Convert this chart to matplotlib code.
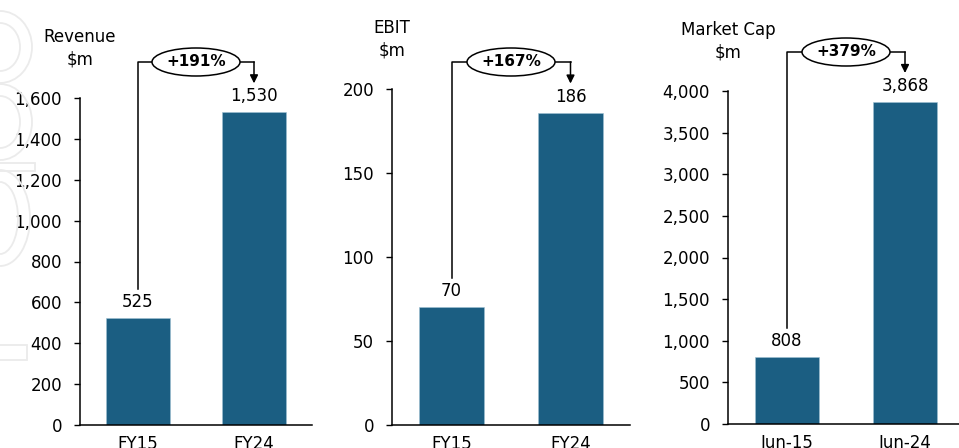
import numpy as np
import matplotlib
matplotlib.use('Agg')
import matplotlib.pyplot as plt
from matplotlib.patches import Ellipse, Arc, Rectangle
from matplotlib.transforms import IdentityTransform, blended_transform_factory

plt.rcParams['font.family'] = ['DejaVu Sans']

# data
titles = ['Revenue\n$m', 'EBIT\n$m', 'Market Cap\n$m']
categories = [['FY15', 'FY24'], ['FY15', 'FY24'], ['Jun-15', 'Jun-24']]
values = [[525, 1530], [70, 186], [808, 3868]]
growth = ['+191%', '+167%', '+379%']
yticks = [np.arange(0, 1601, 200), np.arange(0, 201, 50), np.arange(0, 4001, 500)]

bar_color = '#1B5E82'
fs = 12
W, H = 959, 448
fig = plt.figure(figsize=(W / 100, H / 100), dpi=100)

# axes boxes in pixels: left, right, top, bottom (from top of image)
boxes = [(80, 312, 98, 425), (392, 630, 89, 425), (728, 964, 91, 424)]
bracket_y = [62, 62, 52]   # horizontal connector height, px from top

# faint watermark shapes on left edge (pixels from top)
wm = '#ebebeb'
for cy, hh, hw in [(47, 36, 32), (47, 24, 20), (122, 38, 32), (122, 26, 20), (218, 48, 30), (218, 36, 18)]:
    fig.add_artist(Arc((0, H - cy), 2 * hw, 2 * hh, theta1=-90, theta2=90,
                       color=wm, lw=1.3, transform=IdentityTransform()))
for y0, y1, x1 in [(163, 171, 35), (345, 360, 27)]:
    fig.add_artist(Rectangle((-2, H - y1), x1 + 2, y1 - y0, fill=False,
                             ec=wm, lw=1.3, transform=IdentityTransform()))

for i in range(3):
    l, r, t, b = boxes[i]
    ax = fig.add_axes([l / W, (H - b) / H, (r - l) / W, (b - t) / H])
    x = np.arange(len(categories[i]))
    ax.bar(x, values[i], width=0.55, color=bar_color, edgecolor='#9fc0d3', linewidth=0.4, zorder=2)
    ax.set_xlim(-0.5, 1.5)
    ax.set_ylim(0, yticks[i][-1])
    ax.set_yticks(yticks[i])
    ax.set_yticklabels([f'{v:,}' for v in yticks[i]])
    ax.set_xticks(x)
    ax.set_xticklabels(categories[i])
    ax.tick_params(axis='y', length=4, width=1, pad=9, labelsize=fs)
    ax.tick_params(axis='x', length=0, pad=7, labelsize=fs)
    for s in ['top', 'right']:
        ax.spines[s].set_visible(False)
    for s in ['left', 'bottom']:
        ax.spines[s].set_linewidth(1.1)

    # value labels
    for xi, v in zip(x, values[i]):
        ax.annotate(f'{v:,}', xy=(xi, v), xytext=(0, 5), textcoords='offset points',
                    ha='center', va='bottom', fontsize=fs)

    # title above the y axis
    ax.annotate(titles[i], xy=(0, 1), xycoords='axes fraction', xytext=(0, 36),
                textcoords='offset points', ha='center', va='center', fontsize=fs,
                linespacing=1.3)

    # growth bracket
    tr = blended_transform_factory(ax.transData, IdentityTransform())
    top0 = ax.transData.transform((0, values[i][0]))[1]
    top1 = ax.transData.transform((1, values[i][1]))[1]
    yh = H - bracket_y[i]
    ax.plot([0, 0, 1, 1], [top0 + 29, yh, yh, yh], color='black', lw=1.1,
            transform=tr, clip_on=False, zorder=3)
    ax.annotate('', xy=(1, top1 + 29), xycoords=tr, xytext=(1, yh), textcoords=tr,
                arrowprops=dict(arrowstyle='-|>', color='black', lw=1.1,
                                shrinkA=0, shrinkB=0, mutation_scale=12))
    cx = ax.transData.transform((0.5, 0))[0]
    fig.add_artist(Ellipse((cx, yh), 88, 28, facecolor='white', edgecolor='black',
                           lw=1.1, transform=IdentityTransform(), zorder=4))
    fig.text(cx / W, yh / H, growth[i], ha='center', va='center', fontsize=11,
             fontweight='bold', zorder=5)

fig.savefig('out.png', dpi=100)
